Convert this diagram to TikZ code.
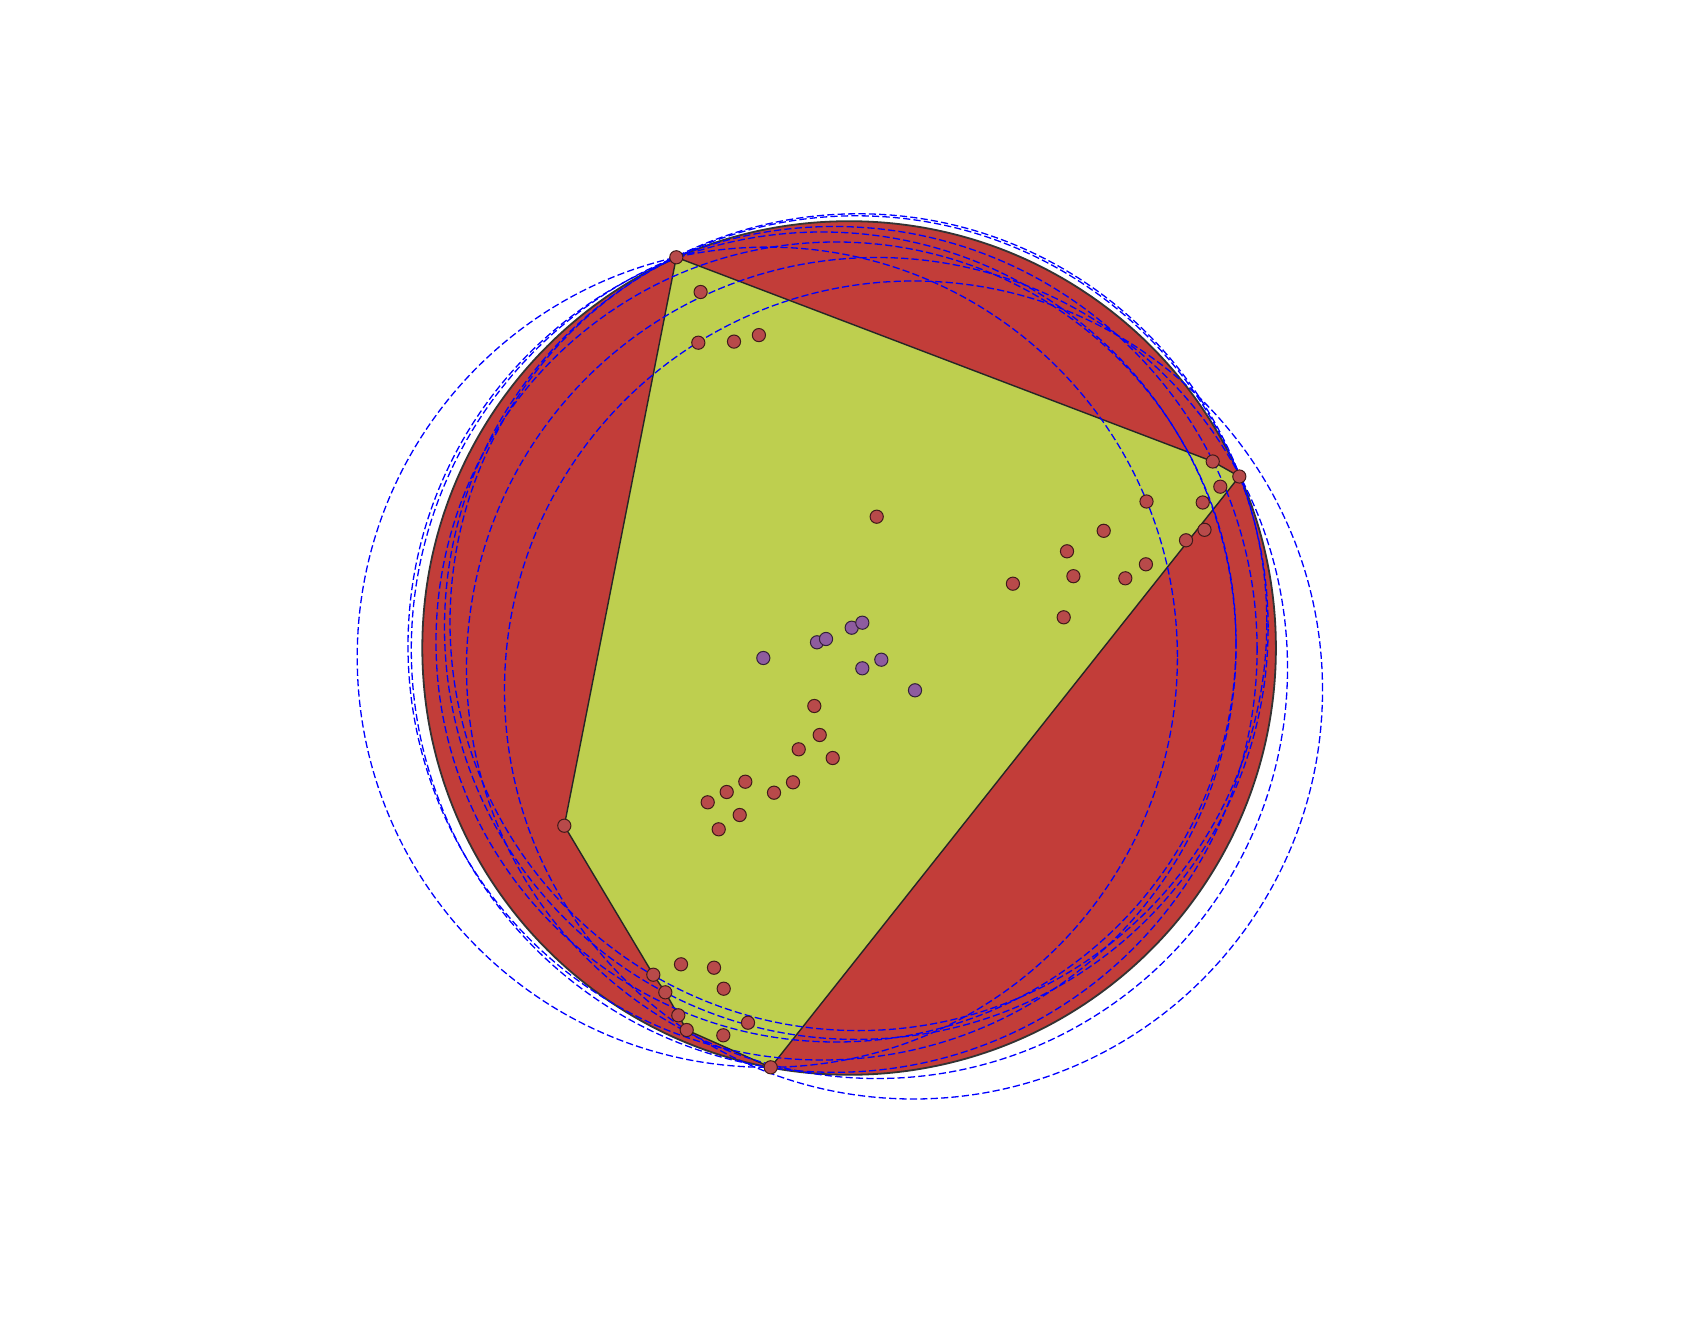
\documentclass[tikz,border=0pt]{standalone}
\begin{document}
\begin{tikzpicture}[x=0.5pt,y=-0.5pt,
  bigdisk/.style={fill=diskred,draw=black!80,line width=0.9pt},
  hull/.style={fill=hullgreen,draw=black!85,line width=0.7pt,line join=round},
  trial/.style={draw=blue,line width=0.65pt,dash pattern=on 3.6pt off 1.6pt},
  rdot/.style={fill=dotred,draw=black!65!dotred,line width=0.5pt},
  pdot/.style={fill=dotpurple,draw=black!65!dotpurple,line width=0.5pt}]
\definecolor{diskred}{HTML}{C23D39}
\definecolor{hullgreen}{HTML}{BECF4F}
\definecolor{dotred}{HTML}{B84A4A}
\definecolor{dotpurple}{HTML}{8E5C9F}
\useasboundingbox (0,0) rectangle (1695,1320);
% enclosing disk
\fill[bigdisk] (849.1,648.0) circle[radius=213.4pt];
% hull points
\coordinate (p1) at (676.3,257.3);
\coordinate (q1) at (1212.7,461.5);
\coordinate (p2) at (1239.3,476.5);
\coordinate (p3) at (770.7,1067.3);
\coordinate (r4) at (686.7,1030);
\coordinate (r3) at (678.3,1015.3);
\coordinate (r2) at (665.3,992.3);
\coordinate (r1) at (653.3,974.7);
\coordinate (p4) at (564.3,825.7);
\draw[hull] (p1) -- (q1) -- (p2) -- (p3) -- (r4) -- (r3) -- (r2) -- (r1) -- (p4) -- cycle;
% trial circles
\draw[trial] (767.3,657.2) circle[radius=205.05pt];
\draw[trial] (913.5,690.0) circle[radius=204.5pt];
\draw[trial] (856.3,627.6) circle[radius=205.9pt];
\draw[trial] (858.4,622.2) circle[radius=204.2pt];
\draw[trial] (834.2,649.4) circle[radius=211.45pt];
\draw[trial] (877.0,668.0) circle[radius=205.25pt];
\draw[trial] (822.0,646.0) circle[radius=207pt];
\draw[trial] (836.0,642.0) circle[radius=200pt];
% red points
\foreach \x/\y in {676.3/257.3,700.6/292,698.3/342.7,734/341.6,758.9/335.1,
  1212.7/461.5,1239.3/476.5,1220.3/486.7,1146.5/501.5,1202.7/502.5,1103.7/530.8,
  1204.5/529.8,1186/540.3,1067/551.3,1145.9/564.3,1073.4/576.2,1125.3/578.3,
  1012.9/583.7,1063.7/617.3,876.7/516.7,814.3/706,819.7/735,798.7/749.3,
  832.7/758,745.3/781.7,793/782.3,726.7/792,774/792.7,707.7/802.3,739.7/815,
  718.7/829.3,564.3/825.7,681/964.3,714/967.7,653.3/974.7,723.7/988.7,
  665.3/992.3,678.3/1015.3,748/1022.7,686.7/1030,723.3/1035.3,770.7/1067.3}
  \draw[rdot] (\x,\y) circle[radius=3.3pt];
% purple points
\foreach \x/\y in {763.3/658,817/642.3,826/639,851.7/627.7,862.3/622.7,
  862.3/668.3,881.3/659.7,915/690.3}
  \draw[pdot] (\x,\y) circle[radius=3.3pt];
\end{tikzpicture}
\end{document}
